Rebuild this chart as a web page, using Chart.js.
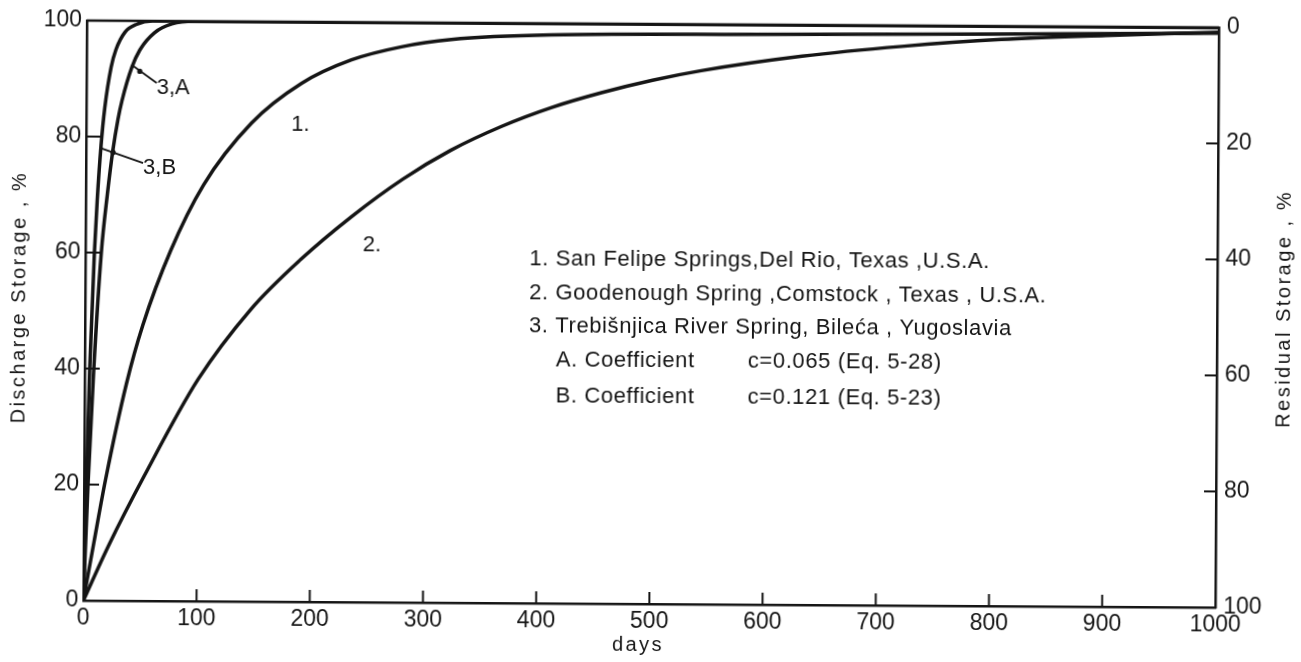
<!DOCTYPE html>
<html lang="en">
<head>
    <meta charset="UTF-8">
    <title>Discharge Storage</title>
    <script src="https://cdn.jsdelivr.net/npm/chart.js"></script>
    <style>
        html, body {
            margin: 0;
            padding: 0;
            background: #fff;
            overflow: hidden;
        }

        .sheet {
            width: 1301px;
            height: 662px;
            transform: rotate(0.35deg);
        }
    </style>
</head>
<body>

    <div class="sheet">
        <canvas id="storageChart" width="1301" height="662"></canvas>
    </div>

    <script>
        // Recession curves: days since start vs. % of storage discharged
        const days1 = [0, 9, 19, 37, 51, 75, 104, 146, 190, 234, 278, 322, 410, 590, 800, 1000];
        const discharge1 = [0, 10, 20.9, 37.5, 47.5, 60.3, 71.8, 82.5, 89.4, 93.5, 95.8, 97.1, 98.0, 98.3, 98.6, 99];

        const days2 = [0, 22, 53, 100, 146, 190, 235, 280, 322, 367, 411, 455, 500, 543, 632, 720, 808, 900, 1000];
        const discharge2 = [0, 9.5, 21.5, 38.2, 50.3, 59, 66.5, 73, 78, 82.2, 85.5, 88.1, 90.3, 92, 94.6, 96.4, 97.7, 98.5, 99.2];

        const days3A = [0, 3.5, 8, 14, 19, 23.7, 28, 31.4, 40, 47, 60, 75, 95, 1000];
        const discharge3A = [0, 20, 40, 60, 70, 77.7, 83, 86.2, 92, 95, 98, 99.5, 100, 100];

        const days3B = [0, 1.9, 4.4, 7.9, 10.1, 13.2, 16.3, 21.7, 25.8, 33.6, 44, 58, 1000];
        const discharge3B = [0, 20, 40, 60, 69, 78.5, 85, 92, 95, 98, 99.4, 100, 100];

        const dayTicks = [0, 100, 200, 300, 400, 500, 600, 700, 800, 900, 1000];
        const pctTicks = [0, 20, 40, 60, 80, 100];

        const legendLines = [
            '1. San Felipe Springs,Del Rio, Texas ,U.S.A.',
            '2. Goodenough Spring ,Comstock , Texas , U.S.A.',
            '3. Trebišnjica River Spring, Bileća , Yugoslavia'
        ];
        const coefLines = [
            ['A. Coefficient', 'c=0.065', '(Eq. 5-28)'],
            ['B. Coefficient', 'c=0.121', '(Eq. 5-23)']
        ];

        const ink = '#151515';
        const face = 'Liberation Sans, Arial, sans-serif';

        function toPoints(xs, ys) {
            return xs.map((d, i) => ({ x: d, y: ys[i] }));
        }

        function curve(xs, ys) {
            return {
                data: toPoints(xs, ys),
                showLine: true,
                borderColor: ink,
                borderWidth: 3.5,
                pointRadius: 0,
                cubicInterpolationMode: 'monotone',
                yAxisID: 'y'
            };
        }

        function seg(ctx, x1, y1, x2, y2) {
            ctx.beginPath();
            ctx.moveTo(x1, y1);
            ctx.lineTo(x2, y2);
            ctx.stroke();
        }

        // frame, inward ticks, curve tags, key text and axis titles
        const paperDecor = {
            id: 'paperDecor',
            afterDraw(chart) {
                const { ctx, chartArea: a, scales: { x, y, y2 } } = chart;
                const px = d => x.getPixelForValue(d);
                const py = v => y.getPixelForValue(v);

                ctx.save();
                ctx.strokeStyle = ink;
                ctx.fillStyle = ink;
                ctx.lineCap = 'butt';

                // top edge of the frame
                ctx.lineWidth = 2.5;
                seg(ctx, a.left, a.top, a.right, a.top);

                // tick marks point into the plot
                ctx.lineWidth = 2;
                pctTicks.slice(1, -1).forEach(v => {
                    seg(ctx, a.left, py(v), a.left + 15, py(v));
                    const r = y2.getPixelForValue(v);
                    seg(ctx, a.right - 12, r, a.right, r);
                });
                dayTicks.slice(1, -1).forEach(d => {
                    seg(ctx, px(d), a.bottom, px(d), a.bottom - 12);
                });

                // curve tags
                ctx.font = '22px ' + face;
                ctx.textBaseline = 'middle';
                ctx.textAlign = 'left';
                ctx.fillText('1.', px(181), py(82.2));
                ctx.fillText('2.', px(245), py(61.5));
                ctx.fillText('3,A', px(62), py(88.4));
                ctx.fillText('3,B', px(50.4), py(74.6));

                // leaders for 3A / 3B
                ctx.lineWidth = 1.8;
                seg(ctx, px(62), py(89.3), px(39.8), py(92.4));
                seg(ctx, px(50.4), py(75.5), px(13.3), py(78.0));
                ctx.beginPath();
                ctx.arc(px(47), py(91.3), 2.6, 0, Math.PI * 2);
                ctx.arc(px(23.9), py(77.3), 2.6, 0, Math.PI * 2);
                ctx.fill();

                // key
                ctx.font = '22px ' + face;
                ctx.letterSpacing = '0.6px';
                const keyTop = [260, 294, 327];
                legendLines.forEach((t, i) => ctx.fillText(t, a.left + 444, keyTop[i]));
                const coefTop = [361, 397];
                coefLines.forEach((parts, i) => {
                    ctx.fillText(parts[0], a.left + 471, coefTop[i]);
                    ctx.fillText(parts[1], a.left + 663, coefTop[i]);
                    ctx.fillText(parts[2], a.left + 753, coefTop[i]);
                });

                // axis titles, both read bottom to top
                ctx.font = '20px ' + face;
                ctx.letterSpacing = '2.5px';
                ctx.textAlign = 'center';
                ctx.save();
                ctx.translate(19, 301);
                ctx.rotate(-Math.PI / 2);
                ctx.fillText('Discharge Storage , %', 0, 0);
                ctx.restore();
                ctx.save();
                ctx.translate(1284, 305);
                ctx.rotate(-Math.PI / 2);
                ctx.fillText('Residual Storage , %', 0, 0);
                ctx.restore();
                ctx.fillText('days', 640, 645);

                ctx.restore();
            }
        };

        const tickFont = { family: face, size: 23 };
        const plainLabel = v => String(v);

        const config = {
            type: 'scatter',
            data: {
                datasets: [
                    curve(days1, discharge1),
                    curve(days2, discharge2),
                    curve(days3A, discharge3A),
                    curve(days3B, discharge3B)
                ]
            },
            options: {
                responsive: false,
                animation: false,
                events: [],
                layout: { padding: { top: 24, left: 0, right: 0, bottom: 0 } },
                plugins: {
                    legend: { display: false },
                    tooltip: { enabled: false }
                },
                scales: {
                    x: {
                        type: 'linear',
                        min: 0,
                        max: 1000,
                        afterFit: s => { s.height = 58; },
                        afterBuildTicks: s => { s.ticks = dayTicks.map(v => ({ value: v })); },
                        ticks: { color: ink, font: tickFont, padding: 4, autoSkip: false, maxRotation: 0, callback: plainLabel },
                        grid: { drawOnChartArea: false, drawTicks: false },
                        border: { color: ink, width: 2.5 }
                    },
                    y: {
                        position: 'left',
                        min: 0,
                        max: 100,
                        afterFit: s => { s.width = 85; },
                        afterBuildTicks: s => { s.ticks = pctTicks.map(v => ({ value: v })); },
                        ticks: { color: ink, font: tickFont, padding: 5, callback: plainLabel },
                        grid: { drawOnChartArea: false, drawTicks: false },
                        border: { color: ink, width: 2.5 }
                    },
                    y2: {
                        position: 'right',
                        reverse: true,
                        min: 0,
                        max: 100,
                        afterFit: s => { s.width = 84; },
                        afterBuildTicks: s => { s.ticks = pctTicks.map(v => ({ value: v })); },
                        ticks: { color: ink, font: tickFont, padding: 8, callback: plainLabel },
                        grid: { drawOnChartArea: false, drawTicks: false },
                        border: { color: ink, width: 2.5 }
                    }
                }
            },
            plugins: [paperDecor]
        };

        const ctx = document.getElementById('storageChart').getContext('2d');
        const storageChart = new Chart(ctx, config);
    </script>

</body>
</html>
